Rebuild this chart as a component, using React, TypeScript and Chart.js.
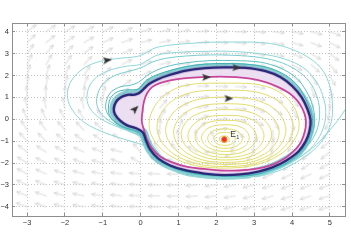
import React, { useEffect, useRef } from 'react';
import { Chart, registerables } from 'chart.js';

Chart.register(...registerables);

// ---------- axes ----------
const X_MIN = -3.4;
const X_MAX = 5.4;
const Y_MIN = -4.42;
const Y_MAX = 4.4;
const X_TICKS = [-3, -2, -1, 0, 1, 2, 3, 4, 5];
const X_TICK_LABELS = ['\u22123', '\u22122', '\u22121', '0', '1', '2', '3', '4', '5'];
const Y_TICKS = [-4, -3, -2, -1, 0, 1, 2, 3, 4];
const Y_TICK_LABELS = ['\u22124', '\u22123', '\u22122', '\u22121', '0', '1', '2', '3', '4'];

// ---------- equilibrium ----------
const E1_X = 2.21;
const E1_Y = -0.92;
const E1_LABEL = 'E';
const E1_SUB = '1';

// ---------- stable limit cycle (dark blue) ----------
const LIMIT_CYCLE = [
  [-0.71, 0.5], [-0.65, 0.8], [-0.52, 1.01], [-0.34, 1.12], [-0.18, 1.12], [-0.05, 1.19], [0.06, 1.35],
  [0.22, 1.61], [0.43, 1.81], [0.72, 2.0], [1.2, 2.22], [1.71, 2.34], [2.24, 2.37], [2.77, 2.35],
  [3.3, 2.2], [3.69, 1.93], [4.01, 1.51], [4.25, 1.01], [4.41, 0.46], [4.49, -0.05], [4.46, -0.55],
  [4.36, -1.01], [4.17, -1.47], [3.85, -1.88], [3.48, -2.2], [3.11, -2.39], [2.63, -2.52], [2.16, -2.55],
  [1.68, -2.48], [1.2, -2.34], [0.78, -2.11], [0.46, -1.79], [0.25, -1.38], [0.14, -0.96], [0.06, -0.6],
  [-0.12, -0.41], [-0.36, -0.28], [-0.55, -0.05], [-0.68, 0.23],
];

// ---------- inner cycle (magenta) ----------
const INNER_CYCLE = [
  [0.03, -0.09], [0.05, 0.37], [0.09, 0.83], [0.17, 1.19], [0.3, 1.47], [0.51, 1.65], [0.78, 1.78],
  [1.2, 1.88], [1.65, 1.93], [2.1, 1.95], [2.5, 1.93], [2.9, 1.86], [3.3, 1.7], [3.64, 1.47],
  [3.93, 1.19], [4.15, 0.83], [4.28, 0.46], [4.36, 0.05], [4.36, -0.37], [4.3, -0.78], [4.2, -1.15],
  [4.01, -1.51], [3.77, -1.83], [3.43, -2.11], [3.03, -2.27], [2.58, -2.34], [2.13, -2.34], [1.68, -2.27],
  [1.23, -2.18], [0.83, -1.97], [0.51, -1.7], [0.3, -1.33], [0.17, -0.92], [0.09, -0.5],
];

// ---------- closed orbits around E1 (yellow) ----------
const ORBIT_1 = [[2.08, -0.92], [2.11, -0.8], [2.21, -0.76], [2.31, -0.8], [2.34, -0.92], [2.31, -1.02], [2.21, -1.06], [2.11, -1.02]];
const ORBIT_2 = [[1.93, -0.89], [2.01, -0.67], [2.22, -0.6], [2.42, -0.67], [2.5, -0.89], [2.42, -1.11], [2.22, -1.19], [2.01, -1.11]];
const ORBIT_3 = [[1.77, -0.87], [1.9, -0.55], [2.23, -0.44], [2.56, -0.55], [2.69, -0.87], [2.56, -1.2], [2.23, -1.33], [1.9, -1.2]];
const ORBIT_4 = [[1.61, -0.85], [1.79, -0.4], [2.24, -0.25], [2.7, -0.4], [2.87, -0.85], [2.7, -1.29], [2.24, -1.47], [1.79, -1.29]];
const ORBIT_5 = [[1.44, -0.8], [1.67, -0.23], [2.25, -0.05], [2.83, -0.23], [3.06, -0.8], [2.83, -1.38], [2.25, -1.61], [1.67, -1.38]];
const ORBIT_6 = [[1.25, -0.76], [1.54, -0.05], [2.26, 0.18], [2.98, -0.05], [3.26, -0.76], [2.98, -1.47], [2.26, -1.74], [1.54, -1.47]];
const ORBIT_7 = [[1.07, -0.69], [1.4, 0.16], [2.26, 0.44], [3.12, 0.16], [3.46, -0.69], [3.12, -1.53], [2.26, -1.86], [1.4, -1.53]];
const ORBIT_8 = [[0.87, -0.6], [1.26, 0.39], [2.26, 0.71], [3.27, 0.39], [3.66, -0.6], [3.27, -1.59], [2.26, -1.97], [1.26, -1.59]];
const ORBIT_9 = [[0.66, -0.5], [1.1, 0.63], [2.25, 1.01], [3.4, 0.63], [3.84, -0.5], [3.4, -1.63], [2.25, -2.06], [1.1, -1.63]];
const ORBIT_10 = [[0.43, -0.37], [0.94, 0.96], [2.23, 1.33], [3.52, 0.96], [4.03, -0.37], [3.52, -1.66], [2.23, -2.16], [0.94, -1.66]];
const ORBIT_11 = [[0.22, -0.23], [0.78, 1.28], [2.2, 1.65], [3.63, 1.28], [4.19, -0.23], [3.63, -1.67], [2.2, -2.23], [0.78, -1.67]];

// ---------- outer trajectories (cyan) ----------
const TRAJ_A = [
  [2.9, -2.68], [2.24, -2.73], [1.57, -2.66], [1.04, -2.48], [0.67, -2.11], [0.41, -1.61], [0.19, -1.28],
  [-0.15, -1.06], [-0.68, -0.78], [-1.16, -0.46], [-1.53, -0.09], [-1.8, 0.41], [-1.93, 0.96], [-1.9, 1.51],
  [-1.74, 1.97], [-1.45, 2.39], [-1.08, 2.64], [-0.6, 2.78], [-0.1, 2.87], [0.14, 3.03], [0.38, 3.26],
  [0.78, 3.39], [1.23, 3.46], [1.84, 3.52], [2.5, 3.53], [3.16, 3.51], [3.69, 3.37], [4.17, 3.07],
  [4.57, 2.66], [4.84, 2.16], [4.99, 1.56], [5.06, 0.92], [5.07, 0.32], [5.02, -0.23], [4.89, -0.73],
  [4.65, -1.28], [4.31, -1.74], [3.91, -2.16], [3.43, -2.48], [3.03, -2.64],
];
const TRAJ_B = [
  [2.9, -2.61], [2.24, -2.66], [1.57, -2.59], [1.1, -2.39], [0.72, -2.02], [0.46, -1.51], [0.25, -1.1],
  [-0.02, -0.78], [-0.44, -0.46], [-0.89, -0.14], [-1.21, 0.23], [-1.4, 0.73], [-1.4, 1.28], [-1.27, 1.74],
  [-1.05, 2.06], [-0.73, 2.29], [-0.36, 2.43], [-0.02, 2.5], [0.19, 2.71], [0.46, 2.94], [0.91, 3.05],
  [1.57, 3.1], [2.42, 3.1], [3.3, 2.96], [3.96, 2.66], [4.38, 2.25], [4.65, 1.7], [4.81, 1.1], [4.89, 0.46],
  [4.86, -0.18], [4.73, -0.78], [4.49, -1.33], [4.15, -1.79], [3.72, -2.2], [3.3, -2.48],
];
const TRAJ_C = [
  [5.4, 0.43], [5.21, -0.05], [4.97, -0.55], [4.65, -1.15], [4.28, -1.65], [3.83, -2.11], [3.3, -2.48],
  [2.77, -2.66], [2.24, -2.71], [1.71, -2.66],
];
const TRAJ_D = [
  [2.5, -2.64], [1.57, -2.55], [1.04, -2.36], [0.67, -1.97], [0.43, -1.47], [0.25, -1.06], [0.03, -0.78],
  [-0.34, -0.5], [-0.73, -0.18], [-1.03, 0.23], [-1.16, 0.69], [-1.13, 1.19], [-1.0, 1.61], [-0.79, 1.9],
  [-0.5, 2.11], [-0.18, 2.25], [0.06, 2.39], [0.3, 2.61], [0.64, 2.78], [1.18, 2.89], [1.84, 2.94],
  [2.5, 2.92], [3.16, 2.82], [3.75, 2.57], [4.23, 2.11], [4.52, 1.56], [4.68, 0.92], [4.73, 0.28],
  [4.68, -0.37], [4.52, -0.96], [4.23, -1.51], [3.83, -1.97], [3.38, -2.29], [2.9, -2.52],
];
const TRAJ_E = [
  [2.5, -2.61], [1.68, -2.55], [1.2, -2.41], [0.78, -2.18], [0.43, -1.83], [0.22, -1.42], [0.09, -0.96],
  [-0.05, -0.64], [-0.28, -0.46], [-0.55, -0.28], [-0.79, 0.05], [-0.92, 0.46], [-0.89, 0.92], [-0.76, 1.28],
  [-0.52, 1.49], [-0.26, 1.56], [-0.05, 1.7], [0.17, 2.0], [0.43, 2.25], [0.78, 2.45], [1.23, 2.59],
  [1.84, 2.68], [2.5, 2.68], [3.16, 2.61], [3.69, 2.34], [4.12, 1.88], [4.38, 1.28], [4.54, 0.64],
  [4.6, 0.0], [4.54, -0.6], [4.41, -1.15], [4.17, -1.65], [3.83, -2.06], [3.43, -2.34], [2.95, -2.55],
];
const TRAJ_F = [
  [2.63, -2.59], [1.68, -2.53], [1.2, -2.39], [0.78, -2.16], [0.45, -1.83], [0.22, -1.42], [0.1, -0.99],
  [0.01, -0.64], [-0.18, -0.5], [-0.44, -0.37], [-0.71, -0.09], [-0.84, 0.28], [-0.84, 0.73], [-0.76, 1.06],
  [-0.58, 1.28], [-0.34, 1.35], [-0.12, 1.35], [-0.01, 1.45], [0.14, 1.77], [0.41, 2.02], [0.72, 2.2],
  [1.2, 2.41], [1.71, 2.52], [2.24, 2.55], [2.77, 2.52], [3.3, 2.39], [3.75, 2.09], [4.09, 1.65],
  [4.31, 1.1], [4.46, 0.53], [4.54, -0.05], [4.5, -0.6], [4.38, -1.1], [4.17, -1.58], [3.85, -2.0],
  [3.48, -2.29], [3.11, -2.5],
];

// ---------- direction arrowheads on trajectories ----------
const HEAD_X = [-0.89, -0.15, 2.53, 1.73, 2.32];
const HEAD_Y = [2.7, 0.46, 2.36, 1.92, 0.95];
const HEAD_ANGLE = [8, 45, -2, 2, 0];

// ---------- direction field (quiver) ----------
const FIELD_X = [-3, -2.5, -2, -1.5, -1, -0.5, 0, 0.5, 1, 1.5, 2, 2.5, 3, 3.5, 4, 4.5, 5];
const FIELD_Y = [4, 3.5, 3, 2.5, 2, 1.5, 1, 0.5, 0, -0.5, -1, -1.5, -2, -2.5, -3, -3.5, -4];
const FIELD_ANGLE = [
  [38, 35, 30, 28, 25, 20, 15, 12, 8, 5, 2, 0, -3, -6, -10, -14, -20],
  [45, 40, 35, 30, 25, 20, 15, 12, 8, 4, 0, -3, -6, -10, -15, -20, -27],
  [55, 50, 45, 38, 30, 22, 16, 12, 7, 3, -1, -5, -9, -15, -22, -30, -38],
  [65, 60, 55, 46, 36, 26, 18, 12, 6, 2, -1, -4, -10, -19, -30, -42, -50],
  [75, 72, 66, 57, 45, 30, 22, 15, 8, 3, 0, -2, -8, -20, -38, -55, -62],
  [85, 82, 77, 70, 55, 35, 40, 20, 8, 3, 0, -3, -10, -22, -45, -70, -78],
  [93, 92, 90, 86, 78, 55, 45, 25, 15, 5, 0, -5, -15, -30, -55, -80, -90],
  [102, 102, 103, 104, 100, 60, 70, 50, 30, 12, 3, -5, -18, -35, -60, -85, -100],
  [112, 114, 117, 120, 120, 95, 80, 60, 40, 18, 2, -12, -35, -60, -80, -105, -115],
  [122, 126, 130, 133, 135, 125, 100, 85, 70, 45, 10, -40, -75, -90, -100, -120, -130],
  [132, 135, 140, 143, 145, 140, 110, 95, 95, 100, 120, 250, 265, 260, 250, 225, 220],
  [142, 146, 150, 155, 160, 165, 130, 120, 130, 150, 180, 205, 230, 240, 235, 222, 218],
  [148, 152, 156, 160, 165, 160, 150, 145, 160, 172, 180, 190, 205, 215, 220, 214, 210],
  [152, 155, 160, 164, 168, 172, 175, 178, 180, 183, 187, 192, 197, 202, 205, 205, 205],
  [155, 158, 162, 166, 170, 173, 176, 179, 181, 184, 187, 190, 194, 198, 200, 200, 200],
  [158, 160, 164, 168, 171, 174, 177, 180, 182, 184, 187, 190, 193, 196, 198, 198, 197],
  [160, 162, 166, 169, 172, 175, 178, 180, 182, 184, 186, 189, 192, 194, 196, 196, 195],
];

const FONT_FAMILY = '"Liberation Sans", Arial, Helvetica, sans-serif';

const toPts = (a: number[][]) => a.map(([x, y]) => ({ x, y }));

function makeQuiverArrow(): HTMLCanvasElement {
  const c = document.createElement('canvas');
  c.width = 26;
  c.height = 26;
  const g = c.getContext('2d')!;
  g.strokeStyle = '#d2d2d2';
  g.lineWidth = 0.8;
  g.lineCap = 'round';
  g.beginPath();
  g.moveTo(13, 13);
  g.lineTo(24, 13);
  g.moveTo(24, 13);
  g.lineTo(20.8, 11.3);
  g.moveTo(24, 13);
  g.lineTo(20.8, 14.7);
  g.stroke();
  return c;
}

function makeHead(): HTMLCanvasElement {
  const c = document.createElement('canvas');
  c.width = 16;
  c.height = 16;
  const g = c.getContext('2d')!;
  g.fillStyle = '#353535';
  g.beginPath();
  g.moveTo(13, 8);
  g.lineTo(4, 4.5);
  g.lineTo(6, 8);
  g.lineTo(4, 11.5);
  g.closePath();
  g.fill();
  return c;
}

const loopPlugin = {
  id: 'closedLoops',
  afterDatasetUpdate(chart: any, args: any) {
    const ds = chart.data.datasets[args.index];
    if (ds && ds.closed && args.meta && args.meta.dataset) {
      args.meta.dataset._loop = true;
      args.meta.dataset._fullLoop = true;
    }
  },
};

const labelPlugin = {
  id: 'e1Label',
  afterDatasetsDraw(chart: any) {
    const { ctx, scales } = chart;
    const px = scales.x.getPixelForValue(E1_X);
    const py = scales.y.getPixelForValue(E1_Y);
    ctx.save();
    ctx.fillStyle = '#333';
    ctx.textBaseline = 'alphabetic';
    ctx.font = `8.5px ${FONT_FAMILY}`;
    ctx.fillText(E1_LABEL, px + 6, py - 2.5);
    const w = ctx.measureText(E1_LABEL).width;
    ctx.font = `5.5px ${FONT_FAMILY}`;
    ctx.fillText(E1_SUB, px + 6 + w + 0.3, py - 0.5);
    ctx.restore();
  },
};

export default function App() {
  const ref = useRef<HTMLCanvasElement>(null);

  useEffect(() => {
    const canvas = ref.current;
    if (!canvas) return;
    const quiver = makeQuiverArrow();
    const head = makeHead();

    const fieldData: { x: number; y: number }[] = [];
    const fieldRot: number[] = [];
    FIELD_Y.forEach((y, r) => {
      FIELD_X.forEach((x, c) => {
        fieldData.push({ x, y });
        fieldRot.push(-FIELD_ANGLE[r][c]);
      });
    });

    const line = (data: number[][], color: string, width: number, closed: boolean, tension = 0.38) => ({
      data: toPts(data),
      showLine: true,
      closed,
      borderColor: color,
      borderWidth: width,
      pointRadius: 0,
      pointHoverRadius: 0,
      tension,
      fill: false,
    });

    const ringData = [...LIMIT_CYCLE, LIMIT_CYCLE[0], ...[...INNER_CYCLE].reverse(), INNER_CYCLE[INNER_CYCLE.length - 1]];

    const layers: any[] = [];
    // bottom -> top
    layers.push({
      data: fieldData,
      showLine: false,
      pointStyle: quiver,
      pointRadius: 1,
      pointHoverRadius: 1,
      pointRotation: fieldRot,
    });
    layers.push(line(LIMIT_CYCLE, 'rgba(60,176,181,0.6)', 9, true));
    layers.push({
      data: toPts(ringData),
      showLine: true,
      borderWidth: 0,
      borderColor: 'rgba(0,0,0,0)',
      backgroundColor: '#ecdff2',
      fill: 'shape',
      pointRadius: 0,
      tension: 0,
    });
    layers.push(line(LIMIT_CYCLE, 'rgba(160,110,185,0.35)', 4, true));
    [ORBIT_1, ORBIT_2, ORBIT_3, ORBIT_4, ORBIT_5, ORBIT_6, ORBIT_7, ORBIT_8, ORBIT_9, ORBIT_10, ORBIT_11].forEach((o) =>
      layers.push(line(o, '#e2dd6a', 1, true))
    );
    layers.push(line(TRAJ_A, '#8fd6d8', 1, false, 0.35));
    layers.push(line(TRAJ_B, '#8fd6d8', 1, false, 0.35));
    layers.push(line(TRAJ_C, '#8fd6d8', 1, false, 0.35));
    layers.push(line(TRAJ_D, '#78cdd0', 1, false, 0.35));
    layers.push(line(TRAJ_E, '#5bc0c3', 1, true, 0.35));
    layers.push(line(TRAJ_F, '#3fb1b5', 1, true, 0.35));
    layers.push(line(INNER_CYCLE, '#c8469a', 1.8, true));
    layers.push(line(LIMIT_CYCLE, '#2b2a78', 2.3, true));
    layers.push({
      data: HEAD_X.map((x, i) => ({ x, y: HEAD_Y[i] })),
      showLine: false,
      pointStyle: head,
      pointRadius: 1,
      pointHoverRadius: 1,
      pointRotation: HEAD_ANGLE.map((a) => -a),
    });
    layers.push({
      data: [{ x: E1_X, y: E1_Y }],
      showLine: false,
      pointStyle: 'circle',
      pointRadius: 2.8,
      pointHoverRadius: 2.8,
      pointBackgroundColor: '#ee3322',
      pointBorderColor: '#f58a3a',
      pointBorderWidth: 1,
    });
    layers.forEach((d, i) => {
      d.order = layers.length - i;
    });

    const tickFont = { family: FONT_FAMILY, size: 7.5 };
    const frame = { display: true, color: '#8e8e8e', width: 1, dash: [1, 2] };

    const chart = new Chart(canvas, {
      type: 'scatter',
      data: { datasets: layers },
      plugins: [loopPlugin, labelPlugin],
      options: {
        animation: false,
        responsive: false,
        maintainAspectRatio: false,
        devicePixelRatio: 1,
        events: [],
        layout: { padding: { left: 0, right: 6, top: 23, bottom: 0 } },
        plugins: { legend: { display: false }, tooltip: { enabled: false } },
        scales: {
          x: {
            type: 'linear',
            position: 'bottom',
            min: X_MIN,
            max: X_MAX,
            afterBuildTicks: (a: any) => {
              a.ticks = X_TICKS.map((v) => ({ value: v }));
            },
            afterFit: (a: any) => {
              a.height = 32;
            },
            ticks: {
              callback: (v: any) => {
                const i = X_TICKS.indexOf(Number(v));
                return i >= 0 ? X_TICK_LABELS[i] : '';
              },
              color: '#333',
              font: tickFont,
              padding: 5,
              maxRotation: 0,
              autoSkip: false,
            },
            grid: { color: '#c4c4c4', lineWidth: 1, drawTicks: true, tickLength: -3, tickColor: '#8e8e8e', tickBorderDash: [] },
            border: frame,
          },
          x2: {
            type: 'linear',
            position: 'top',
            min: X_MIN,
            max: X_MAX,
            afterBuildTicks: (a: any) => {
              a.ticks = X_TICKS.map((v) => ({ value: v }));
            },
            afterFit: (a: any) => {
              a.height = 0;
            },
            ticks: { display: false },
            grid: { drawOnChartArea: false, drawTicks: true, tickLength: -3, tickColor: '#8e8e8e', tickBorderDash: [] },
            border: { display: true, color: '#8e8e8e', width: 1 },
          },
          y: {
            type: 'linear',
            position: 'left',
            min: Y_MIN,
            max: Y_MAX,
            afterBuildTicks: (a: any) => {
              a.ticks = Y_TICKS.map((v) => ({ value: v }));
            },
            afterFit: (a: any) => {
              a.width = 12;
            },
            ticks: {
              callback: (v: any) => {
                const i = Y_TICKS.indexOf(Number(v));
                return i >= 0 ? Y_TICK_LABELS[i] : '';
              },
              color: '#333',
              font: tickFont,
              padding: 6,
              autoSkip: false,
            },
            grid: { color: '#c4c4c4', lineWidth: 1, drawTicks: true, tickLength: -3, tickColor: '#8e8e8e', tickBorderDash: [] },
            border: frame,
          },
          y2: {
            type: 'linear',
            position: 'right',
            min: Y_MIN,
            max: Y_MAX,
            afterBuildTicks: (a: any) => {
              a.ticks = Y_TICKS.map((v) => ({ value: v }));
            },
            afterFit: (a: any) => {
              a.width = 0;
            },
            ticks: { display: false },
            grid: { drawOnChartArea: false, drawTicks: true, tickLength: -3, tickColor: '#8e8e8e', tickBorderDash: [] },
            border: { display: true, color: '#8e8e8e', width: 1 },
          },
        },
      } as any,
    } as any);

    return () => chart.destroy();
  }, []);

  return (
    <div style={{ position: 'fixed', left: 0, top: 0, width: 351, height: 248, background: '#fff' }}>
      <canvas ref={ref} width={351} height={248} style={{ display: 'block', width: 351, height: 248 }} />
    </div>
  );
}
